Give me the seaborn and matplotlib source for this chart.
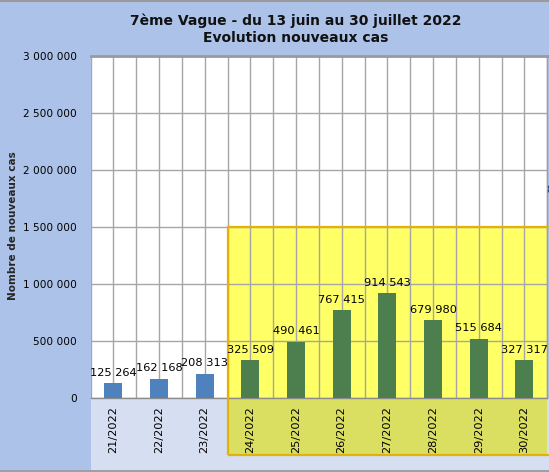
import matplotlib
matplotlib.use("Agg")
import matplotlib.pyplot as plt
import matplotlib.ticker as mticker
from matplotlib.patches import Rectangle
from matplotlib.lines import Line2D
import seaborn as sns
import pandas as pd
import numpy as np

# ---- data ----
semaines = ["21/2022", "22/2022", "23/2022", "24/2022", "25/2022",
            "26/2022", "27/2022", "28/2022", "29/2022", "30/2022"]
cas = [125264, 162168, 208313, 325509, 490461, 767415, 914543, 679980, 515684, 327317]
groupes = ["avant"] * 3 + ["vague"] * 7
titre = "7ème Vague - du 13 juin au 30 juillet 2022\nEvolution nouveaux cas"
ylabel = "Nombre de nouveaux cas"

df = pd.DataFrame({"semaine": semaines, "cas": cas, "groupe": groupes})

W, H = 549, 472
DPI = 100
sns.set_theme(style="white")
plt.rcParams["font.family"] = ["DejaVu Sans"]

fig = plt.figure(figsize=(W / DPI, H / DPI), dpi=DPI)
fig.patch.set_facecolor("#adc2e8")

# band below the plot area
fig.patches.append(Rectangle((90.5 / W, 1 - 470 / H), 1 - 90.5 / W, (470 - 397.5) / H,
                             transform=fig.transFigure, facecolor="#d5dff1",
                             edgecolor="none", zorder=-1))
fig.lines.append(Line2D([0, 1], [1 - 470.5 / H] * 2, transform=fig.transFigure,
                        color="#9a9a9a", lw=1.2, zorder=3))
fig.lines.append(Line2D([0, 1], [1 - 0.8 / H] * 2, transform=fig.transFigure,
                        color="#9a9a9a", lw=1.5, zorder=3))

left, right, top, bottom = 90.5, 547.2, 56, 397.5
ax = fig.add_axes([left / W, 1 - bottom / H, (right - left) / W, (bottom - top) / H])
ax.set_facecolor("white")

sns.barplot(data=df, x="semaine", y="cas", hue="groupe",
            palette={"avant": "#4f81bd", "vague": "#4d7e4d"},
            width=0.4, dodge=False, legend=False, ax=ax, zorder=3, saturation=1,
            edgecolor="none", linewidth=0)

ax.set_xlim(-0.5, 9.5)
ax.set_ylim(0, 3000000)
ax.yaxis.set_major_locator(mticker.MultipleLocator(500000))
ax.yaxis.set_major_formatter(mticker.FuncFormatter(lambda v, p: f"{v:,.0f}".replace(",", " ")))
ax.set_xticks(range(len(semaines)))
ax.set_xticklabels(semaines, rotation=90, fontsize=8.2)
ax.xaxis.set_minor_locator(mticker.FixedLocator(np.arange(-0.5, 10, 1)))
ax.grid(True, which="both", axis="x", color="#a6a6a6", lw=1, zorder=1)
ax.grid(True, which="major", axis="y", color="#a6a6a6", lw=1, zorder=1)
ax.set_axisbelow(True)
ax.tick_params(axis="y", length=0, pad=10, labelsize=7.6, colors="black")
ax.tick_params(axis="x", which="both", length=0, pad=6, colors="black")
ax.set_xlabel("")
ax.set_ylabel(ylabel, fontsize=7.5, fontweight="bold")
ax.yaxis.set_label_coords(-72 / (right - left), (bottom - 226) / (bottom - top))

for s in ["left", "right", "bottom"]:
    ax.spines[s].set_color("#a0a0a0")
    ax.spines[s].set_linewidth(1)
ax.spines["left"].set_visible(False)
ax.spines["top"].set_color("#9a9a9a")
ax.spines["top"].set_linewidth(2)
ax.spines["bottom"].set_color("#8c8c8c")

# highlighted zone
ax.add_patch(Rectangle((2.5, 0), 7.0, 1500000, facecolor="#ffff66",
                       edgecolor="none", zorder=0.2))
ax.add_patch(Rectangle((2.5, -505000), 7.0, 505000, facecolor="#dadf62",
                       edgecolor="none", zorder=0.5, clip_on=False))
ax.add_patch(Rectangle((2.5, -505000), 7.2, 2005000, facecolor="none",
                       edgecolor="#e3b20a", lw=1.6, zorder=4, clip_on=False))

for cont in ax.containers:
    ax.bar_label(cont, fmt=lambda v: f"{v:,.0f}".replace(",", " "),
                 padding=4, fontsize=8.2, color="black", zorder=5)

fig.text(296 / W, 1 - 29 / H, titre, ha="center", va="center", fontsize=10,
         fontweight="bold", linespacing=1.3, color="#111111")
fig.text(546 / W, 1 - 190 / H, "8", ha="left", va="center", fontsize=7.5, color="#1f3f7f")

fig.savefig("out.png", dpi=DPI, facecolor=fig.get_facecolor())
